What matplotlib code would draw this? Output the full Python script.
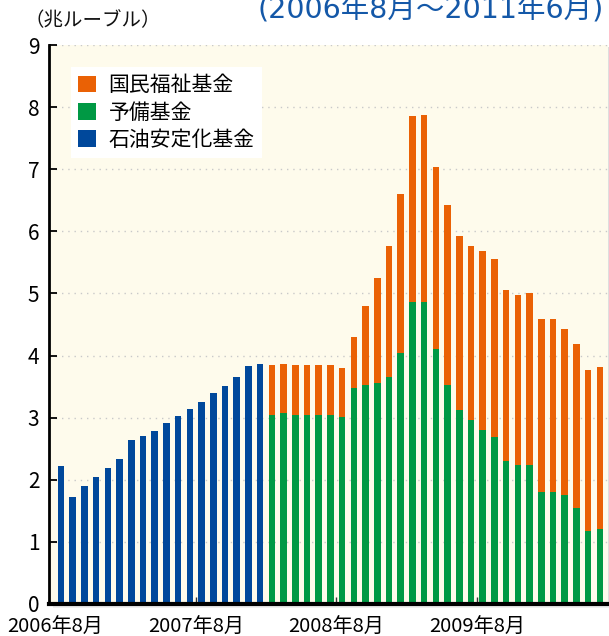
import matplotlib
matplotlib.use('Agg')
import matplotlib.pyplot as plt
from matplotlib.patches import Patch, Rectangle

plt.rcParams['font.family'] = ['Noto Sans CJK JP', 'DejaVu Sans']

# ---- data (trillion rubles) ----
stabilization_fund = [2.22, 1.73, 1.90, 2.05, 2.19, 2.34, 2.64, 2.71, 2.79, 2.91,
                      3.02, 3.14, 3.25, 3.40, 3.51, 3.65, 3.83, 3.86]
reserve_fund = [3.05, 3.08, 3.05, 3.05, 3.05, 3.05, 3.01, 3.48, 3.53, 3.56,
                3.66, 4.04, 4.87, 4.87, 4.11, 3.53, 3.12, 2.97, 2.80, 2.69,
                2.30, 2.24, 2.23, 1.81, 1.81, 1.75, 1.54, 1.17, 1.20]
welfare_fund = [0.79, 0.79, 0.79, 0.79, 0.79, 0.79, 0.79, 0.82, 1.26, 1.69,
                2.11, 2.56, 2.98, 3.01, 2.93, 2.90, 2.80, 2.80, 2.89, 2.87,
                2.75, 2.73, 2.78, 2.78, 2.78, 2.68, 2.64, 2.60, 2.61]
tick_labels = ['2006年8月', '2007年8月', '2008年8月', '2009年8月']
tick_months = [0, 12, 24, 36]
legend_labels = ['国民福祉基金', '予備基金', '石油安定化基金']
unit_label = '（兆ルーブル）'
period_label = '(2006年8月〜2011年6月)'

# ---- style ----
c_orange = '#EA6105'
c_green = '#009944'
c_blue = '#00489B'
bg = '#FEFBEC'

W, H = 609, 636
fig = plt.figure(figsize=(W / 100, H / 100), dpi=100)
L, R, T, B = 49, 608, 45, 604

# soft shadow behind plot area
for off, col in [(4, '#efefef'), (2, '#dedede')]:
    fig.patches.append(Rectangle(((L + off) / W, 1 - (B + off) / H), (R - L) / W, (B - T) / H,
                                 transform=fig.transFigure, facecolor=col,
                                 edgecolor='none', zorder=0))

ax = fig.add_axes([L / W, 1 - B / H, (R - L) / W, (B - T) / H])
ax.set_zorder(2)
ax.set_facecolor(bg)

n_old = len(stabilization_fund)
x_old = list(range(n_old))
x_new = list(range(n_old, n_old + len(reserve_fund)))
w = 0.56
ax.bar(x_old, stabilization_fund, width=w, color=c_blue, zorder=2)
ax.bar(x_new, reserve_fund, width=w, color=c_green, zorder=2)
ax.bar(x_new, welfare_fund, width=w, bottom=reserve_fund, color=c_orange, zorder=2)

ax.set_xlim(-1.03, 46.7)
ax.set_ylim(0, 9)
ax.set_yticks(range(0, 10))
ax.yaxis.grid(True, color='#c9c9c9', linewidth=1.0, linestyle=(0, (1, 3.5)), zorder=1)
ax.set_axisbelow(True)
ax.yaxis.get_gridlines()[0].set_visible(False)

ax.set_xticks([m - 0.5 for m in tick_months])
ax.set_xticklabels(tick_labels)
ax.tick_params(axis='x', direction='in', length=5, width=1, color='#333333',
               labelsize=14.5, pad=9)
ax.tick_params(axis='y', direction='in', length=6, width=1.3, color='black',
               labelsize=15, pad=7)
ax.xaxis.get_major_ticks()[0].tick1line.set_visible(False)

for s in ['top', 'right']:
    ax.spines[s].set_visible(False)
ax.spines['left'].set_linewidth(2)
ax.spines['bottom'].set_linewidth(3)
ax.spines['left'].set_zorder(3)
ax.spines['bottom'].set_zorder(3)

handles = [Patch(facecolor=c, edgecolor='none') for c in (c_orange, c_green, c_blue)]
leg = ax.legend(handles, legend_labels, loc='upper left',
                bbox_to_anchor=(71 / W, 1 - 67 / H), bbox_transform=fig.transFigure,
                fontsize=15, frameon=True, fancybox=False, framealpha=1,
                edgecolor='white', facecolor='white', borderpad=0.35,
                labelspacing=0.25, handlelength=0.85, handleheight=0.85,
                handletextpad=0.6, borderaxespad=0)
leg.get_frame().set_linewidth(0)

fig.text(24 / W, 1 - 21 / H, unit_label, fontsize=14, ha='left', va='center',
         color='#111111')
fig.text(604 / W, 1 - 18 / H, period_label, fontsize=20.5, ha='right', va='baseline',
         color='#1458A8', family=['DejaVu Sans', 'Noto Sans CJK JP'])

fig.savefig('out.png', dpi=100, facecolor='white')
